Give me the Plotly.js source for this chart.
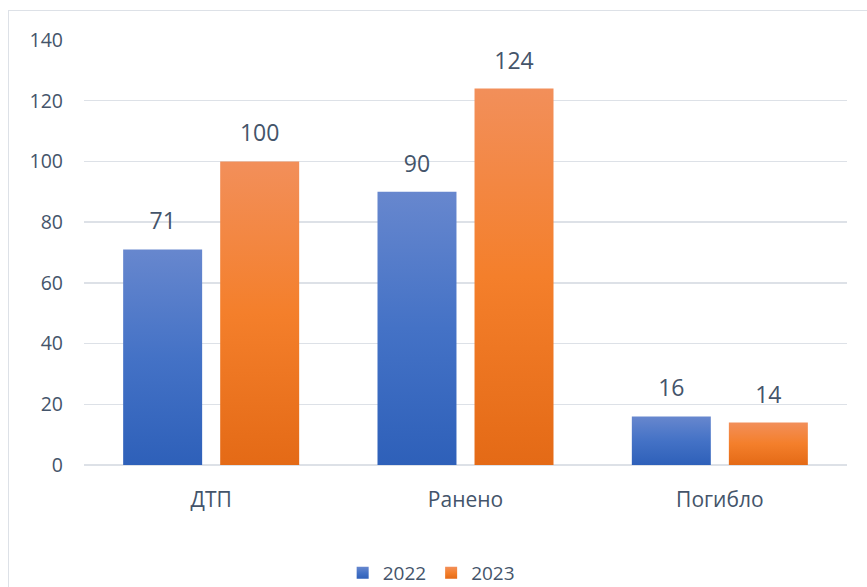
<!DOCTYPE html>
<html>
<head>
<meta charset="utf-8">
<script src="https://cdn.plot.ly/plotly-3.0.1.min.js"></script>
<style>
  html, body { margin: 0; padding: 0; background: #fff; }
  #wrap { position: relative; width: 867px; height: 587px; overflow: hidden; }
  #chart { position: absolute; left: 0; top: 0; width: 867px; height: 587px; }
  #frame { position: absolute; left: 8px; top: 10px; width: 880px; height: 600px;
           border: 1.5px solid #dde1e7; pointer-events: none; }
</style>
</head>
<body>
<div id="wrap">
  <div id="chart"></div>
  <div id="frame"></div>
</div>
<script>
const categories = ["ДТП", "Ранено", "Погибло"];
const series2022 = [71, 90, 16];
const series2023 = [100, 124, 14];
const seriesNames = ["2022", "2023"];
const yTicks = [0, 20, 40, 60, 80, 100, 120, 140];

const textColor = "#44546a";
const fontFamily = "'Open Sans', 'Noto Sans', sans-serif";
// gradient stops (top, middle, bottom) per series, Excel-style
const gradStops = [["#6787ce", "#4472c6", "#2e60b9"], ["#f28f5a", "#f47f2b", "#e46a16"]];

const traces = [
  {
    type: "bar", name: seriesNames[0], x: categories, y: series2022,
    marker: { color: "#4675c8", line: { width: 0 } },
    text: series2022.map(String), textposition: "outside", cliponaxis: false,
    textfont: { size: 23, color: textColor, family: fontFamily }
  },
  {
    type: "bar", name: seriesNames[1], x: categories, y: series2023,
    marker: { color: "#ef7d2e", line: { width: 0 } },
    text: series2023.map(String), textposition: "outside", cliponaxis: false,
    textfont: { size: 23, color: textColor, family: fontFamily }
  }
];

const layout = {
  width: 867, height: 587,
  margin: { l: 84, r: 20, t: 40, b: 122, autoexpand: false },
  paper_bgcolor: "#ffffff", plot_bgcolor: "#ffffff",
  barmode: "group", bargap: 0.237, bargroupgap: 0.186,
  font: { family: fontFamily, color: textColor, size: 20 },
  showlegend: true,
  legend: {
    orientation: "h", x: 0.455, xanchor: "center", y: -0.254, yanchor: "middle",
    font: { size: 19, color: textColor, family: fontFamily },
    itemwidth: 30, traceorder: "normal"
  },
  xaxis: {
    showgrid: false, showline: false, zeroline: false,
    tickfont: { size: 21, color: textColor, family: fontFamily },
    ticks: "", ticklabelstandoff: 20
  },
  yaxis: {
    range: [0, 140], tickvals: yTicks, ticktext: yTicks.map(String),
    showgrid: true, gridcolor: "#dde1e7", gridwidth: 1.5,
    zeroline: true, zerolinecolor: "#dde1e7", zerolinewidth: 1.5,
    showline: false, ticks: "",
    tickfont: { size: 19.5, color: textColor, family: fontFamily },
    ticklabelstandoff: 20
  }
};

Plotly.newPlot("chart", traces, layout, { displayModeBar: false, staticPlot: true }).then(function (gd) {
  const NS = "http://www.w3.org/2000/svg";
  const svg = gd.querySelector("svg.main-svg");
  const defs = document.createElementNS(NS, "defs");
  gradStops.forEach(function (stops, i) {
    const lg = document.createElementNS(NS, "linearGradient");
    lg.setAttribute("id", "barGrad" + i);
    lg.setAttribute("x1", "0"); lg.setAttribute("y1", "0");
    lg.setAttribute("x2", "0"); lg.setAttribute("y2", "1");
    stops.forEach(function (c, k) {
      const s = document.createElementNS(NS, "stop");
      s.setAttribute("offset", String(k / (stops.length - 1)));
      s.setAttribute("stop-color", c);
      lg.appendChild(s);
    });
    defs.appendChild(lg);
  });
  svg.insertBefore(defs, svg.firstChild);

  // bars: apply gradient per trace
  gd.querySelectorAll(".barlayer .trace.bars").forEach(function (tr, i) {
    tr.querySelectorAll(".point path").forEach(function (p) {
      p.style.fill = "url(#barGrad" + i + ")";
    });
    // lift the outside data labels a little higher above the bar tops
    tr.querySelectorAll(".point text").forEach(function (t) {
      const tf = t.getAttribute("transform") || "";
      t.setAttribute("transform", "translate(0,-10) " + tf);
    });
  });
  // legend swatches
  gd.querySelectorAll(".legend .traces").forEach(function (lt, i) {
    lt.querySelectorAll(".legendpoints path").forEach(function (p) {
      p.style.fill = "url(#barGrad" + i + ")";
    });
  });
});
</script>
</body>
</html>
